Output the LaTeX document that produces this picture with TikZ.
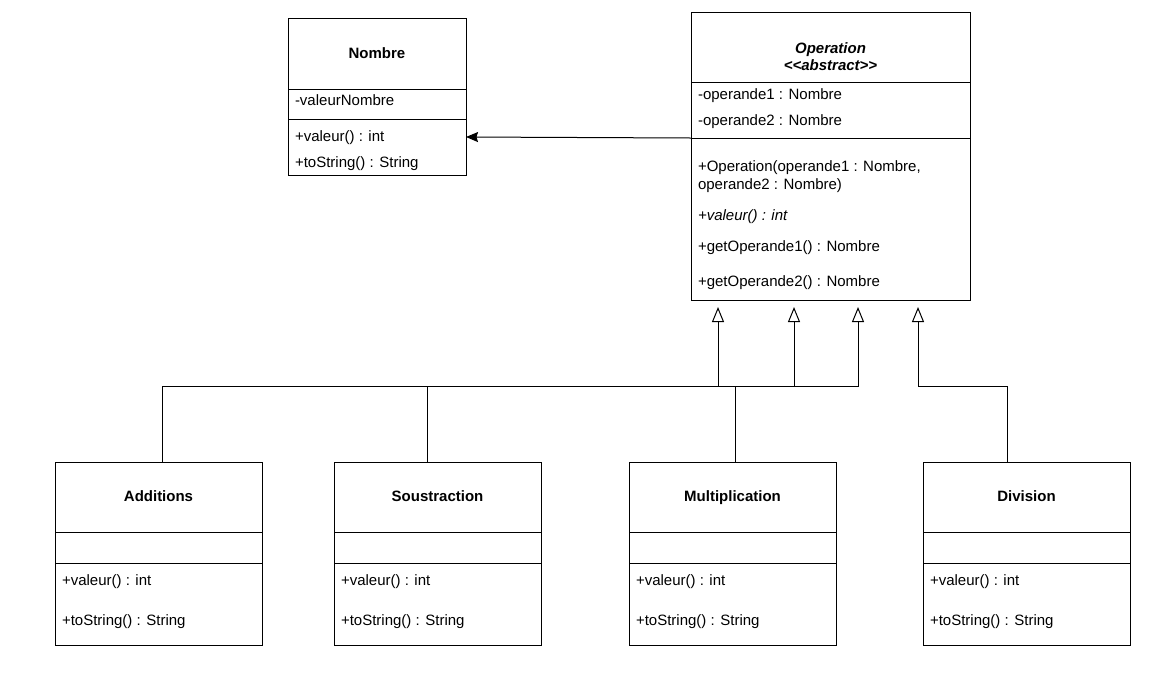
\documentclass[tikz,border=0pt]{standalone}
\usepackage{fontspec}
\setmainfont{Liberation Sans}
\usetikzlibrary{arrows.meta}
\begin{document}
\begin{tikzpicture}[x=1pt,y=-1pt,
  every node/.style={font=\fontsize{15}{18}\selectfont,inner sep=0pt,outer sep=0pt},
  classbox/.style={draw=black,line width=1pt,anchor=north west},
  member/.style={anchor=base west},
  title/.style={anchor=base,font=\fontsize{15}{18}\selectfont\bfseries},
  sep/.style={line width=1pt},
  assoc/.style={line width=1pt,-{Stealth[length=12pt,width=10pt,inset=1.5pt]}},
  inherit/.style={line width=1pt,-{Triangle[open,length=15pt,width=12pt,fill=white]}}]
\useasboundingbox[fill=white] (0,0) rectangle (1156,673);

% class Nombre
\node[classbox,minimum width=178pt,minimum height=157pt] (nb) at (288,18) {};
\draw[sep] (288,89) -- (466,89);
\draw[sep] (288,119) -- (466,119);
\node[title] (nbt) at (377,58.3) {Nombre};
\node[member] (nb1) at (295,105.7) {-valeurNombre};
\node[member] (nb2) at (295,141) {+valeur() : int};
\node[member] (nb3) at (295,167.3) {+toString() : String};

% abstract class Operation
\node[classbox,minimum width=279pt,minimum height=288pt] (op) at (691,12) {};
\draw[sep] (691,82) -- (970,82);
\draw[sep] (691,138) -- (970,138);
\node[title,font=\fontsize{15}{18}\selectfont\bfseries\itshape] (opt1) at (830.5,53.3) {Operation};
\node[title,font=\fontsize{15}{18}\selectfont\bfseries\itshape] (opt2) at (830.5,70.5) {{<}{<}abstract{>}{>}};
\node[member] (op1) at (698,99) {-operande1 : Nombre};
\node[member] (op2) at (698,125) {-operande2 : Nombre};
\node[member] (op3) at (698,171) {+Operation(operande1 : Nombre,};
\node[member] (op4) at (698,189) {operande2 : Nombre)};
\node[member,font=\fontsize{15}{18}\selectfont\itshape] (op5) at (698,220) {+valeur() : int};
\node[member] (op6) at (698,251) {+getOperande1() : Nombre};
\node[member] (op7) at (698,286.7) {+getOperande2() : Nombre};

% Operation uses Nombre
\coordinate (opsep) at (691,138);
\coordinate (nbin) at (466,137);
\draw[assoc] (opsep) -- (nbin);

% concrete subclasses
\newcommand\umlsub[3]{%
  \node[classbox,minimum width=207pt,minimum height=183pt] (#1) at (#2,462) {};
  \draw[sep] (#2,532) -- ++(207,0);
  \draw[sep] (#2,563) -- ++(207,0);
  \node[title] (#1t) at ([xshift=103.5pt]#2,501.7) {#3};
  \node[member] (#1a) at ([xshift=7pt]#2,585) {+valeur() : int};
  \node[member] (#1b) at ([xshift=7pt]#2,625) {+toString() : String};
}
\umlsub{add}{55}{Additions}
\umlsub{sub}{334}{Soustraction}
\umlsub{mul}{629}{Multiplication}
\umlsub{div}{923}{Division}

% generalisation arrows
\coordinate (bus) at (0,386);
\coordinate (t1) at (718,307);
\coordinate (t2) at (794,307);
\coordinate (t3) at (858,307);
\coordinate (t4) at (918,307);
\coordinate (addin) at (162,462);
\coordinate (subin) at (427,462);
\coordinate (mulin) at (735,462);
\coordinate (divin) at (1007,462);
\draw[inherit] (addin) |- (t1 |- bus) -- (t1);
\draw[inherit] (subin) |- (t2 |- bus) -- (t2);
\draw[inherit] (mulin) |- (t3 |- bus) -- (t3);
\draw[inherit] (divin) |- (t4 |- bus) -- (t4);
\end{tikzpicture}
\end{document}
